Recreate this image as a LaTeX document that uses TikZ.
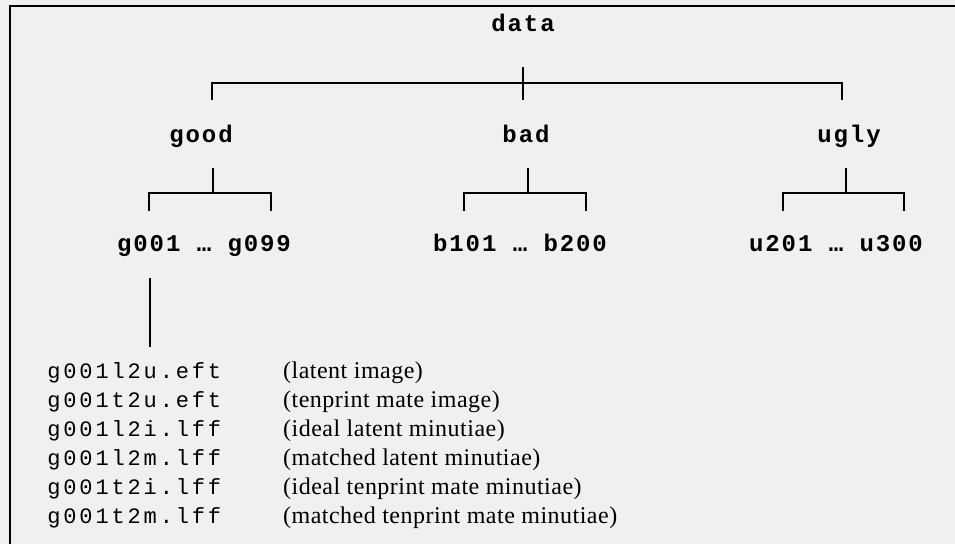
\documentclass[tikz,border=0pt]{standalone}
\usepackage{fontspec}
\setmainfont{Liberation Serif}
\newfontfamily\treefont[LetterSpace=8]{Liberation Mono}
\newfontfamily\filefont[LetterSpace=13]{Liberation Mono}
\newfontfamily\notefont[LetterSpace=2]{Liberation Serif}
\usetikzlibrary{calc}
\usetikzlibrary{matrix}

\definecolor{sheet}{gray}{0.94}

\tikzset{
  dir/.style={font=\treefont\bfseries\fontsize{12}{14}\selectfont,anchor=base,inner sep=0pt},
  branch/.style={draw,line width=1pt},
  frame/.style={draw,line width=1.3pt}
}

\begin{document}
\begin{tikzpicture}[x=0.5pt,y=-0.5pt]

  \fill [sheet] (0,0) rectangle (955,544);
  \useasboundingbox (0,0) rectangle (955,544);
  \draw [frame] (955,6) -- (10,6) -- (10,544);

  \node [dir] (data) at (523,32) {data};
  \node [dir] (good) at (201,143) {good};
  \node [dir] (bad)  at (526,143) {bad};
  \node [dir] (ugly) at (849,143) {ugly};

  \node [dir] (gleaves) at (204,252) {g001 … g099};
  \node [dir] (bleaves) at (520,252) {b101 … b200};
  \node [dir] (uleaves) at (836,252) {u201 … u300};

  \coordinate (data-dn)  at (523,67);
  \coordinate (root-bar) at (523,83);
  \coordinate (good-up)  at (212,100);
  \coordinate (bad-up)   at (523,100);
  \coordinate (ugly-up)  at (842,100);

  \path [branch]
    (data-dn) -- (bad-up)
    (good-up) |- (root-bar) -| (ugly-up);

  \coordinate (good-dn)  at (213,168);
  \coordinate (good-bar) at (213,193);
  \coordinate (g-first)  at (149,211);
  \coordinate (g-last)   at (271,211);

  \coordinate (bad-dn)   at (528,168);
  \coordinate (bad-bar)  at (528,193);
  \coordinate (b-first)  at (464,211);
  \coordinate (b-last)   at (586,211);

  \coordinate (ugly-dn)  at (846,168);
  \coordinate (ugly-bar) at (846,193);
  \coordinate (u-first)  at (783,211);
  \coordinate (u-last)   at (904,211);

  \path [branch]
    (good-dn) -- (good-bar)
    (g-first) |- (good-bar) -| (g-last)
    (bad-dn)  -- (bad-bar)
    (b-first) |- (bad-bar) -| (b-last)
    (ugly-dn) -- (ugly-bar)
    (u-first) |- (ugly-bar) -| (u-last);

  \matrix (files) [matrix of nodes,anchor=north west,inner sep=0pt,column sep=31pt,
    nodes={anchor=base west,inner sep=0pt,text height=10pt,text depth=4.5pt},
    column 1/.style={nodes={font=\filefont\fontsize{11}{13}\selectfont}},
    column 2/.style={nodes={font=\notefont\fontsize{12}{14}\selectfont}}] at (47,358) {
    g001l2u.eft & (latent image) \\
    g001t2u.eft & (tenprint mate image) \\
    g001l2i.lff & (ideal latent minutiae) \\
    g001l2m.lff & (matched latent minutiae) \\
    g001t2i.lff & (ideal tenprint mate minutiae) \\
    g001t2m.lff & (matched tenprint mate minutiae) \\
  };

  \coordinate (g001-dn) at (150,278);
  \draw [branch,shorten >=5.5pt] (g001-dn) -- (g001-dn |- files-1-1.north);

\end{tikzpicture}
\end{document}
